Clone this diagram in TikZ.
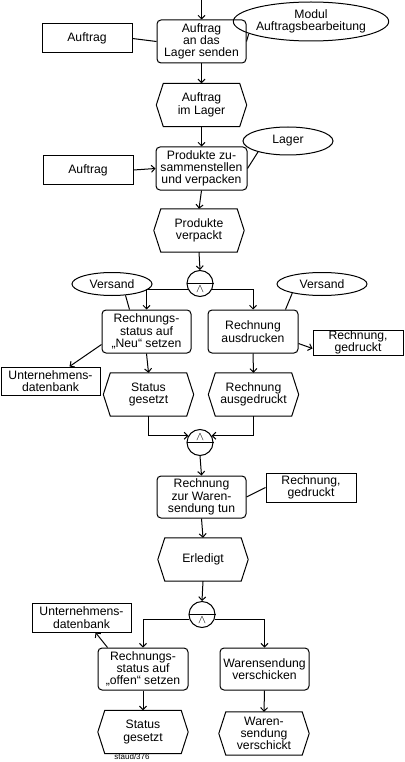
\documentclass[tikz,border=0pt]{standalone}
\usepackage{fontspec}
\setmainfont{Liberation Sans}
\usetikzlibrary{shapes.geometric,arrows.meta,calc}
\newcommand{\txt}{\fontsize{12.2}{12.3}\selectfont}
\newcommand{\evtnode}[3]{%
  \node[evt] (#1) at (#2) {#3};
  \draw[ln] (#1.west) -- ($(#1.north west)+(7,0)$) -- ($(#1.north east)+(-7,0)$) -- (#1.east)
    -- ($(#1.south east)+(-7,0)$) -- ($(#1.south west)+(7,0)$) -- cycle;}
\newcommand{\connnode}[3]{% name, pos, symbol y-offset
  \node[conn] (#1) at (#2) {};
  \draw[ln] (#1.west) -- (#1.east);
  \node[font=\fontsize{13}{13}\selectfont, inner sep=0pt] (#1s) at ($(#1)+(0,#3)$) {$\wedge$};}
\begin{document}
\begin{tikzpicture}[x=1pt,y=-1pt,
  ln/.style={line width=1pt},
  >={Straight Barb[length=3.5pt,width=7pt]},
  fn/.style={draw, ln, rounded corners=4pt, minimum width=89pt, minimum height=43pt, inner sep=0pt, align=center, font=\txt},
  evt/.style={draw=none, minimum width=90pt, minimum height=43pt, inner sep=0pt, align=center, font=\txt},
  dat/.style={draw, ln, minimum width=90pt, minimum height=28pt, inner sep=0pt, align=center, font=\txt},
  org/.style={draw, ln, ellipse, inner sep=0pt, align=center, font=\txt},
  conn/.style={draw, ln, circle, minimum size=26pt, inner sep=0pt},
  arr/.style={ln, ->}]
\useasboundingbox (0,0) rectangle (404,762);

% first part
\coordinate (top) at (201.5,0);
\node[fn] (f1) at (201.5,41.5) {Auftrag\\an das\\Lager senden};
\node[dat, minimum height=29pt] (d1) at (87,38.5) {Auftrag};
\node[org, minimum width=124pt, minimum height=39pt] (o1) at (311,21.5) {Modul\\Auftragsbearbeitung};
\evtnode{e1}{201.5,105}{Auftrag\\im Lager}
\node[fn, minimum width=91pt] (f2) at (201.5,168.5) {Produkte zu-\\sammenstellen\\und verpacken};
\node[dat] (d2) at (88,170) {Auftrag};
\node[org, minimum width=90pt, minimum height=28pt] (o2) at (288,141) {Lager};
\evtnode{e2}{199,230.5}{Produkte\\verpackt}

\draw[arr] (top) -- (f1.north);
\draw[ln] (d1.east) -- (f1.west);
\draw[ln] (o1.191) -- (f1.east);
\draw[arr] (f1.south) -- (e1.north);
\draw[arr] (e1.south) -- (f2.north);
\draw[arr] (d2.east) -- (f2.west);
\draw[ln] (o2.200) -- (f2.east);
\draw[arr] (f2.south) -- (e2.north);

% split 1
\connnode{c1}{200,283.5}{5.5}
\draw[arr] (e2.south) -- (c1.north);
\node[org, minimum width=80pt, minimum height=23pt] (o3) at (112,284) {Versand};
\node[org, minimum width=90pt, minimum height=23pt] (o4) at (322,284) {Versand};
\node[fn] (f3) at (146.5,331.5) {Rechnungs-\\status auf\\„Neu“ setzen};
\node[fn, minimum width=90pt] (f4) at (253,331.5) {Rechnung\\ausdrucken};
\node[dat, minimum height=25pt] (d3) at (358,342.5) {Rechnung,\\gedruckt};
\node[dat, minimum width=99pt] (d4) at (50.5,381) {Unternehmens-\\datenbank};
\evtnode{e3}{148.5,394.5}{Status\\gesetzt}
\evtnode{e4}{253.5,394.5}{Rechnung\\ausgedruckt}

\draw[arr] (c1.205) -| (f3.north);
\draw[arr] (c1.335) -| (f4.north);
\draw[ln] (o3.320) -- ($(f3.north west)+(28,0)$);
\draw[ln] (o4.197) -- ($(f4.north east)+(-13,0)$);
\draw[arr] ($(f3.south west)+(0,-9)$) -- ($(d4.north west)+(69,0)$);
\draw[arr] ($(f4.south east)+(0,-10)$) -- ($(d3.west)+(0,6)$);
\draw[arr] (f3.south) -- (e3.north);
\draw[arr] (f4.south) -- (e4.north);

% merge
\connnode{c2}{200,442.5}{-5.5}
\draw[arr] (e3.south) |- (c2.150);
\draw[arr] (e4.south) |- (c2.30);
\node[fn, minimum height=42pt] (f5) at (201.5,497) {Rechnung\\zur Waren-\\sendung tun};
\node[dat, minimum height=29pt] (d5) at (311,487.5) {Rechnung,\\gedruckt};
\evtnode{e5}{203,559.5}{Erledigt}
\draw[arr] (c2.south) -- (f5.north);
\draw[ln] (f5.east) -- (d5.west);
\draw[arr] (f5.south) -- (e5.north);

% split 2
\connnode{c3}{202,614.5}{5.5}
\draw[arr] (e5.south) -- (c3.north);
\node[dat, minimum width=99pt, minimum height=29pt] (d6) at (81.5,617.5) {Unternehmens-\\datenbank};
\node[fn, minimum width=90pt, minimum height=42pt] (f6) at (143,669) {Rechnungs-\\status auf\\„offen“ setzen};
\node[fn, minimum height=42pt] (f7) at (264.5,669) {Warensendung\\verschicken};
\evtnode{e6}{143,732}{Status\\gesetzt}
\evtnode{e7}{264,733.5}{Waren-\\sendung\\verschickt}
\draw[arr] (c3.200) -| (f6.north);
\draw[arr] (c3.340) -| (f7.north);
\draw[arr] ($(f6.north west)+(10,0)$) -- ($(d6.south west)+(64,0)$);
\draw[arr] (f6.south) -- (e6.north);
\draw[arr] (f7.south) -- (e7.north);

\node[font=\fontsize{8}{8}\selectfont, inner sep=0pt] (src) at (132,757) {staud/376};
\end{tikzpicture}
\end{document}
